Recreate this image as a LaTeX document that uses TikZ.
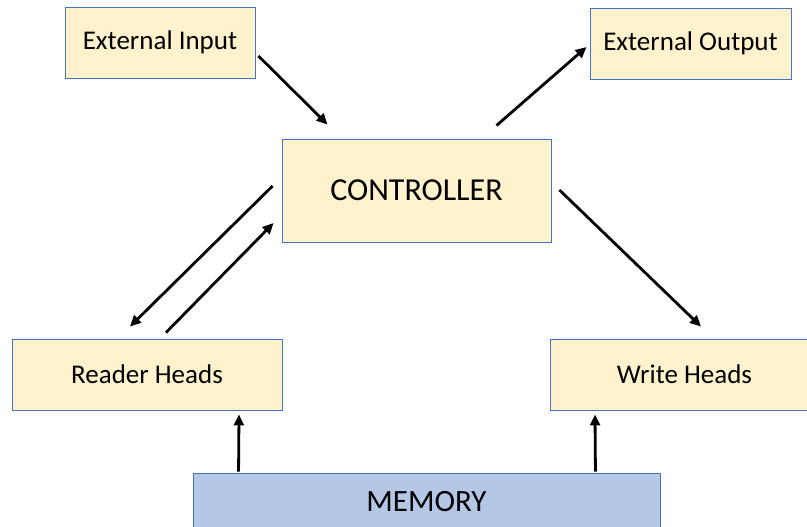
\documentclass[tikz,border=0pt]{standalone}
\usepackage{fontspec}
\setmainfont{Carlito}
\usetikzlibrary{arrows.meta,calc}
\definecolor{boxfill}{HTML}{FFF2CC}
\definecolor{boxline}{HTML}{4472C4}
\definecolor{memfill}{HTML}{B4C7E7}
\begin{document}
\begin{tikzpicture}[x=1pt,y=-1pt,
  unit/.style={draw=boxline, line width=0.9pt, fill=boxfill, inner sep=0pt,
    font=\fontsize{27}{30}\selectfont},
  bigunit/.style={unit, font=\fontsize{32}{36}\selectfont},
  memunit/.style={unit, fill=memfill, font=\fontsize{31}{35}\selectfont},
  flow/.style={line width=2.8pt, -{Triangle[length=11pt,width=10pt]}}]
\useasboundingbox (0,0) rectangle (807,527);
% boxes
\node[unit, minimum width=190pt, minimum height=71pt] (in) at (160,42.5) {External Input};
\node[unit, minimum width=201pt, minimum height=71pt] (out) at (690.5,43.5) {External Output};
\node[bigunit, minimum width=269pt, minimum height=103pt] (ctrl) at (416.5,190.5) {CONTROLLER};
\node[unit, minimum width=270pt, minimum height=71pt] (read) at (147,374.5) {Reader Heads};
\node[unit, minimum width=269pt, minimum height=71pt] (write) at (684.5,374.5) {Write Heads};
\node[memunit, minimum width=467pt, minimum height=58pt] (mem) at (426.5,502) {MEMORY};
% connectors
\draw[flow] ($(in.east)+(3,13.5)$) -- ($(ctrl.north west)+(46,-14)$);
\draw[flow] ($(ctrl.north east)+(-55,-13)$) -- ($(out.west)+(-3,3.5)$);
\draw[flow] ($(ctrl.west)+(-9,-4.5)$) -- ($(read.north)+(-17,-12)$);
\draw[flow] ($(read.north)+(19,-6)$) -- ($(ctrl.west)+(-8,32.5)$);
\draw[flow] ($(ctrl.east)+(8,-0.5)$) -- ($(write.north)+(16.5,-12)$);
\draw[flow] ($(mem.north west)+(46,-1)$) -- ($(read.south)+(92,4)$);
\draw[flow] ($(mem.north east)+(-65,-1)$) -- ($(write.south)+(-89.5,4)$);
\end{tikzpicture}
\end{document}
